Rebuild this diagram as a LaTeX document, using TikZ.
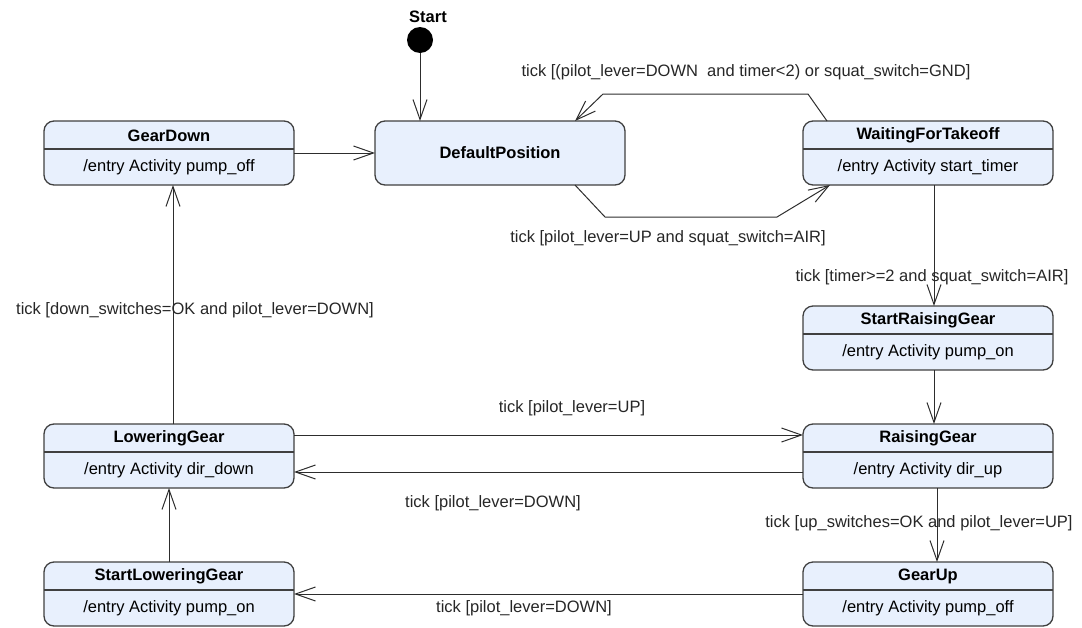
\documentclass[tikz,border=0pt]{standalone}
\usepackage{fontspec}
\setmainfont{Liberation Sans}
\usetikzlibrary{arrows.meta,calc}
\definecolor{statefill}{RGB}{232,240,253}
\definecolor{stateline}{RGB}{64,64,64}
\definecolor{wireline}{RGB}{45,45,45}
\newcommand\umlstate[5]{%
  \node[statebox] (#1) at (#2,#3) {};
  \draw[divider] ([yshift=-28pt]#1.north west) -- ([yshift=-28pt]#1.north east);
  \node[titletext] (#1-title) at ([yshift=-14.5pt]#1.north) {#4};
  \node[entrytext] (#1-entry) at ([yshift=-46.5pt]#1.north) {#5};
}
\begin{document}
\begin{tikzpicture}[x=1pt,y=-1pt,
  statebox/.style={draw=stateline,fill=statefill,line width=1.3pt,rounded corners=10pt,
    minimum width=250pt,minimum height=64pt,inner sep=0pt,outer sep=0pt},
  divider/.style={draw=stateline,line width=1.3pt},
  titletext/.style={font=\fontsize{16.5}{18}\selectfont\bfseries,inner sep=0pt},
  entrytext/.style={font=\fontsize{16.5}{18}\selectfont,inner sep=0pt},
  lbl/.style={font=\fontsize{16.5}{18}\selectfont,inner sep=0pt,text=black!85},
  trans/.style={draw=wireline,line width=1pt,-{Straight Barb[length=20pt,width=14pt]}},
]
\useasboundingbox (0,0) rectangle (1082,627);

% states
\umlstate{gd}{169}{153}{GearDown}{/entry Activity pump\_off}
\node[statebox] (dp) at (500,153) {};
\node[titletext] (dp-title) at (dp.center) {DefaultPosition};
\umlstate{wft}{928}{153}{WaitingForTakeoff}{/entry Activity start\_timer}
\umlstate{srg}{928}{338}{StartRaisingGear}{/entry Activity pump\_on}
\umlstate{rg}{928}{456}{RaisingGear}{/entry Activity dir\_up}
\umlstate{gu}{928}{594}{GearUp}{/entry Activity pump\_off}
\umlstate{lg}{169}{456}{LoweringGear}{/entry Activity dir\_down}
\umlstate{slg}{169}{594}{StartLoweringGear}{/entry Activity pump\_on}

% initial state
\node[circle,fill=black,minimum size=26pt,inner sep=0pt] (start) at (420,40) {};
\node[titletext] (startlbl) at (428,17) {Start};

% transitions
\draw[trans] (start) -- (start |- dp.north);
\draw[trans] (gd) -- (dp);

\draw[trans] ($(dp.south)+(75,0)$) -- ($(dp.south)+(105,32)$) -- ($(wft.south)+(-151,32)$) -- ($(wft.south)+(-98,0)$);
\node[lbl] (l-up-air) at (668,238) {tick [pilot\_lever=UP and squat\_switch=AIR]};

\draw[trans] ($(wft.north)+(-101,0)$) -- ($(wft.north)+(-120,-27)$) -- ($(dp.north)+(103,-27)$) -- ($(dp.north)+(75,0)$);
\node[lbl] (l-down-gnd) at (746,72) {tick [(pilot\_lever=DOWN\ \ and timer<2) or squat\_switch=GND]};

\draw[trans] ([xshift=6pt]wft.south) -- ([xshift=6pt]srg.north);
\node[lbl] (l-timer) at (932,277) {tick [timer>=2 and squat\_switch=AIR]};

\draw[trans] ([xshift=6pt]srg.south) -- ([xshift=6pt]rg.north);

\draw[trans] ([xshift=9pt]rg.south) -- ([xshift=9pt]gu.north);
\node[lbl] (l-upsw) at (919,523) {tick [up\_switches=OK and pilot\_lever=UP]};

\draw[trans] (gu) -- (slg);
\node[lbl] (l-down3) at (524,608) {tick [pilot\_lever=DOWN]};

\draw[trans] ([yshift=21pt]lg.east) -- ([yshift=21pt]rg.west);
\node[lbl] (l-up2) at (572,408) {tick [pilot\_lever=UP]};

\draw[trans] ([yshift=-16pt]rg.west) -- ([yshift=-16pt]lg.east);
\node[lbl] (l-down2) at (493,503) {tick [pilot\_lever=DOWN]};

\draw[trans] (slg) -- (lg);

\draw[trans] ([xshift=4pt]lg.north) -- ([xshift=4pt]gd.south);
\node[lbl] (l-downsw) at (195,310) {tick [down\_switches=OK and pilot\_lever=DOWN]};
\end{tikzpicture}
\end{document}
